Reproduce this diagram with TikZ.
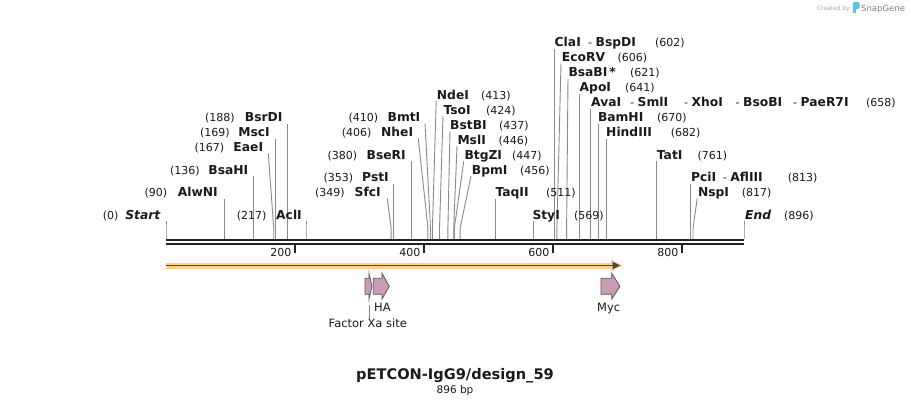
\documentclass[tikz,border=0pt]{standalone}
\usepackage{fontspec}
\setmainfont{DejaVu Sans}
\definecolor{txt}{HTML}{1A1A1A}
\definecolor{cutgray}{HTML}{8A8A8A}
\definecolor{bb}{HTML}{222222}
\definecolor{orangeband}{HTML}{FCD08A}
\definecolor{arrowdark}{HTML}{4B4640}
\definecolor{featpink}{HTML}{C99BB5}
\definecolor{featline}{HTML}{5A5A5A}
\definecolor{logoblue}{HTML}{5BC2F0}
\newcommand\bn[1]{{\fontsize{12.3}{14}\selectfont\bfseries #1}}
\newcommand\cutsite[4]{%
  \coordinate (#1-s) at (#2,239);
  \coordinate (#1-b) at (#2,228);
  \coordinate (#1-t) at (#3,#4+6);
  \draw[cutline] (#1-s) -- (#1-b) -- (#1-t);}
\newcommand\lname[4]{\node[ename,anchor=base east] (#1) at (#2,#3+4.4) {#4};}
\newcommand\rname[4]{\node[ename,anchor=base west] (#1) at (#2,#3+4.4) {#4};}
\newcommand\pnum[4]{\node[enum,anchor=base west] (#1) at (#2,#3+4.4) {#4};}
\tikzset{
  ename/.style={font=\fontsize{12.3}{14}\selectfont\bfseries, text=txt, inner sep=0pt},
  enum/.style={font=\fontsize{11}{13}\selectfont, text=txt, inner sep=0pt},
  cutline/.style={draw=cutgray, line width=0.9pt},
  backbone/.style={draw=bb, line width=2.4pt},
  tickmark/.style={draw=bb, line width=2pt},
  ticklabel/.style={font=\fontsize{11}{13}\selectfont, text=txt, inner sep=0pt, anchor=base east},
  feat/.style={fill=featpink, draw=featline, line width=0.8pt, line join=miter},
  featlabel/.style={font=\fontsize{11.5}{13}\selectfont, text=txt, inner sep=0pt},
}
\begin{document}
\begin{tikzpicture}[x=1pt,y=-1pt]
\useasboundingbox (0,0) rectangle (911,405);
\fill[white] (0,0) rectangle (911,405);

% backbone
\coordinate (bbL1) at (166,240.2);
\coordinate (bbR1) at (744,240.2);
\coordinate (bbL2) at (166,244.2);
\coordinate (bbR2) at (744,244.2);
\draw[backbone] (bbL1) -- (bbR1);
\draw[backbone] (bbL2) -- (bbR2);

% ticks
\foreach \tx/\tl in {295.0/200, 424.0/400, 553.05/600, 682.07/800}{
  \draw[tickmark] (\tx,245) -- (\tx,252.5);
  \node[ticklabel] (tick\tl) at (\tx-3.5,256) {\tl};
}

% cut site lines
\cutsite{Start}{166}{166}{214.5}
\cutsite{AlwNI}{224.06}{224.06}{192.5}
\cutsite{BsaHI}{253.73}{253.73}{170}
\cutsite{EaeI}{273.73}{268.3}{147.5}
\cutsite{MscI}{275.02}{275.02}{132.5}
\cutsite{BsrDI}{287.28}{287.28}{117.5}
\cutsite{AclI}{305.99}{305.99}{214.5}
\cutsite{SfcI}{391.14}{387.3}{192.5}
\cutsite{PstI}{393.72}{393.72}{177.5}
\cutsite{BseRI}{411.13}{411.13}{155}
\cutsite{NheI}{427.91}{418.3}{132.5}
\cutsite{BmtI}{430.49}{425}{117.5}
\cutsite{NdeI}{432.42}{436.2}{95}
\cutsite{TsoI}{439.52}{443}{110}
\cutsite{BstBI}{447.90}{450}{125}
\cutsite{MslI}{453.71}{457}{140}
\cutsite{BtgZI}{454.36}{463.8}{155}
\cutsite{BpmI}{460.16}{471}{170}
\cutsite{TaqII}{495.64}{495.64}{192.5}
\cutsite{StyI}{533.06}{533.06}{214.5}
\cutsite{ClaI}{554.34}{554.34}{42.5}
\cutsite{EcoRV}{556.92}{561}{57.5}
\cutsite{BsaBI}{566.60}{568}{72.5}
\cutsite{ApoI}{579.50}{579.50}{87.5}
\cutsite{AvaI}{590.47}{590.47}{102.5}
\cutsite{BamHI}{598.21}{598.21}{117.5}
\cutsite{HindIII}{605.95}{605.95}{132.5}
\cutsite{TatI}{656.91}{656.91}{155}
\cutsite{PciI}{690.46}{690.46}{177.5}
\cutsite{NspI}{693.04}{697.2}{192.5}
\cutsite{End}{744}{744}{214.5}

% left-side labels
\pnum{Start-p}{102.7}{215}{(0)}    \lname{Start-n}{160.5}{215}{\itshape Start}
\pnum{AlwNI-p}{144.3}{192.5}{(90)} \lname{AlwNI-n}{218}{192.5}{AlwNI}
\pnum{BsaHI-p}{170}{170}{(136)}    \lname{BsaHI-n}{248.5}{170}{BsaHI}
\pnum{EaeI-p}{194.3}{147.5}{(167)} \lname{EaeI-n}{263.3}{147.5}{EaeI}
\pnum{MscI-p}{200}{132.5}{(169)}   \lname{MscI-n}{270}{132.5}{MscI}
\pnum{BsrDI-p}{205}{117.5}{(188)}  \lname{BsrDI-n}{282.7}{117.5}{BsrDI}
\pnum{AclI-p}{236.7}{215}{(217)}   \lname{AclI-n}{302}{215}{AclI}
\pnum{SfcI-p}{315}{192.5}{(349)}   \lname{SfcI-n}{381}{192.5}{SfcI}
\pnum{PstI-p}{323.3}{177.5}{(353)} \lname{PstI-n}{389}{177.5}{PstI}
\pnum{BseRI-p}{327.3}{155}{(380)}  \lname{BseRI-n}{406}{155}{BseRI}
\pnum{NheI-p}{341.7}{132.5}{(406)} \lname{NheI-n}{413.3}{132.5}{NheI}
\pnum{BmtI-p}{348.3}{117.5}{(410)} \lname{BmtI-n}{420.5}{117.5}{BmtI}

% right-side labels
\rname{NdeI-n}{436.7}{95}{NdeI}     \pnum{NdeI-p}{481}{95}{(413)}
\rname{TsoI-n}{443.3}{110}{TsoI}    \pnum{TsoI-p}{486}{110}{(424)}
\rname{BstBI-n}{450}{125}{BstBI}    \pnum{BstBI-p}{499}{125}{(437)}
\rname{MslI-n}{457.3}{140}{MslI}    \pnum{MslI-p}{498.3}{140}{(446)}
\rname{BtgZI-n}{464.3}{155}{BtgZI}  \pnum{BtgZI-p}{512}{155}{(447)}
\rname{BpmI-n}{471.7}{170}{BpmI}    \pnum{BpmI-p}{520}{170}{(456)}
\rname{TaqII-n}{495.3}{192.5}{TaqII} \pnum{TaqII-p}{546}{192.5}{(511)}
\rname{StyI-n}{532.3}{215}{StyI}    \pnum{StyI-p}{574}{215}{(569)}
\rname{ClaI-n}{554.5}{42.5}{ClaI}   \pnum{ClaI-d1}{588}{42.5}{- \bn{BspDI}} \pnum{ClaI-p}{655}{42.5}{(602)}
\rname{EcoRV-n}{561.7}{57.5}{EcoRV} \pnum{EcoRV-p}{617.3}{57.5}{(606)}
\rname{BsaBI-n}{568.3}{72.5}{BsaBI\,*} \pnum{BsaBI-p}{630}{72.5}{(621)}
\rname{ApoI-n}{579.5}{87.5}{ApoI}   \pnum{ApoI-p}{625}{87.5}{(641)}
\rname{AvaI-n}{591}{102.5}{AvaI}
\pnum{AvaI-d1}{630}{102.5}{- \bn{SmlI}}
\pnum{AvaI-d2}{684}{102.5}{- \bn{XhoI}}
\pnum{AvaI-d3}{735.5}{102.5}{- \bn{BsoBI}}
\pnum{AvaI-d4}{793}{102.5}{- \bn{PaeR7I}}
\pnum{AvaI-p}{866}{102.5}{(658)}
\rname{BamHI-n}{597.8}{117.5}{BamHI}     \pnum{BamHI-p}{657}{117.5}{(670)}
\rname{HindIII-n}{606}{132.5}{HindIII}   \pnum{HindIII-p}{670.7}{132.5}{(682)}
\rname{TatI-n}{656.7}{155}{TatI}         \pnum{TatI-p}{697.3}{155}{(761)}
\rname{PciI-n}{690.8}{177.5}{PciI}       \pnum{PciI-d1}{722.7}{177.5}{- \bn{AflIII}} \pnum{PciI-p}{787.7}{177.5}{(813)}
\rname{NspI-n}{697.8}{192.5}{NspI}       \pnum{NspI-p}{741.7}{192.5}{(817)}
\rname{End-n}{745}{215}{\itshape End}    \pnum{End-p}{784}{215}{(896)}

% ORF arrow
\fill[orangeband] (166,262.5) rectangle (613,268.5);
\fill[orangeband] (611,259.5) -- (622.5,265.5) -- (611,271.5) -- cycle;
\coordinate (orfS) at (166,265.5);
\coordinate (orfE) at (613,265.5);
\draw[arrowdark, line width=1.6pt] (orfS) -- (orfE);
\fill[arrowdark] (612.5,261.6) -- (620,265.5) -- (612.5,269.4) -- cycle;

% features
\draw[feat] (365,278.3) -- (369,278.3) -- (369,273.3) -- (372,286.3) -- (369,299) -- (369,294.3) -- (365,294.3) -- cycle;
\draw[feat] (373.3,278.3) -- (382,278.3) -- (382,273.3) -- (389.3,286.3) -- (382,299) -- (382,294.3) -- (373.3,294.3) -- cycle;
\draw[feat] (601,278.3) -- (611.7,278.3) -- (611.7,273.3) -- (620,286.3) -- (611.7,299) -- (611.7,294.3) -- (601,294.3) -- cycle;
\node[featlabel, anchor=base west] (HA) at (374,311.7) {HA};
\node[featlabel, anchor=base] (FXa) at (367.8,327.5) {Factor Xa site};
\coordinate (FXa-t) at (369.3,305);
\draw[cutline, line width=0.8pt] (FXa-t) -- (FXa.north -| FXa-t);
\node[featlabel, anchor=base] (Myc) at (608.7,311.7) {Myc};

% title
\node[font=\fontsize{14.6}{16}\selectfont\bfseries, text=txt, inner sep=0pt, anchor=base] (title) at (455,379) {pETCON-IgG9/design\_59};
\node[font=\fontsize{10.5}{12}\selectfont, text=txt, inner sep=0pt, anchor=base] (bp) at (455,393) {896 bp};

% watermark
\node[font=\fontsize{6}{7}\selectfont, text=black!35, inner sep=0pt, anchor=base east] (created) at (850,10.5) {Created by};
\fill[logoblue, rounded corners=1.5pt] (853,1.8) rectangle (859.5,9);
\fill[logoblue] (853,4) rectangle (856,12.7);
\node[font=\fontsize{8.5}{10}\selectfont, text=black!50, inner sep=0pt, anchor=base west] (snap) at (861,11) {SnapGene};
\end{tikzpicture}
\end{document}
